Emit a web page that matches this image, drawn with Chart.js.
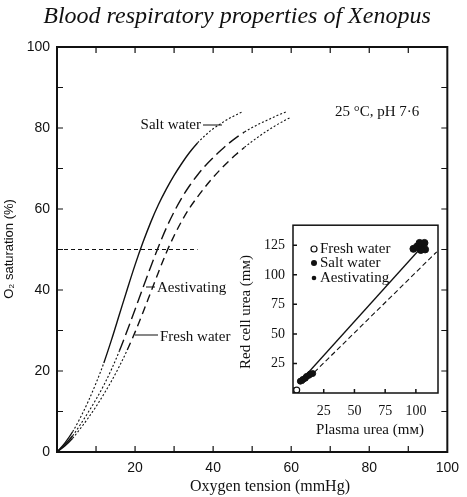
<!DOCTYPE html>
<html>
<head>
<meta charset="utf-8">
<script src="https://cdn.jsdelivr.net/npm/chart.js@4.4.0/dist/chart.umd.min.js"></script>
<style>
  html, body { margin: 0; padding: 0; background: #fff; }
  #wrap { position: relative; width: 467px; height: 497px; }
  #main { position: absolute; left: 0; top: 0; }
  #inset { position: absolute; left: 232px; top: 220px; }
</style>
</head>
<body>
<div id="wrap">
  <canvas id="main" width="467" height="497"></canvas>
  <canvas id="inset" width="215" height="225"></canvas>
</div>
<script>
// dissociation curves, O2 tension (mmHg) vs saturation (%)
const saltTension = [0,2,4,6,8,10,12,14,16,18,20,22,24,26,28,30,32,34,36,38,40,42,44,46,47.5];
const saltSat = [0,2.2,5,8.5,12.5,17,22,27.8,34,40.2,46.2,51.7,56.7,61.1,64.9,68.3,71.3,74,76.3,78.2,79.8,81.1,82.3,83.3,84];

const aestTension = [0,2,4,6,8,10,12,14,16,18,20,22,24,26,28,30,32,34,36,38,40,42,44,46,48,50,52,54,56,58,59];
const aestSat = [0,1.8,4,6.8,9.8,13,16.5,20.5,25,30,35.2,40.5,45.7,50.7,55.3,59.3,62.8,65.8,68.4,70.7,72.7,74.5,76.2,77.7,79,80.1,81.1,82,82.9,83.7,84.1];

const freshTension = [0,2,4,6,8,10,12,14,16,18,20,22,24,26,28,30,32,34,36,38,40,42,44,46,48,50,52,54,56,58,60];
const freshSat = [0,1.5,3.4,5.8,8.4,11.2,14.3,17.6,21.2,25.2,29.6,34.4,39.4,44.4,49.2,53.4,57.1,60.3,63,65.5,67.8,69.9,71.8,73.6,75.2,76.7,78.1,79.4,80.6,81.7,82.7];

const p50Tension = [0, 36];
const p50Sat = [50, 50];

// inset: plasma urea vs red cell urea (mM)
const plasmaFresh = [2, 3];
const cellFresh = [2, 2.5];
const plasmaSalt = [98, 101, 103, 105, 107, 107.5, 104];
const cellSalt = [122, 124, 127, 125.5, 127, 121.5, 121];
const plasmaAest = [6, 8, 10, 11, 13, 14, 16];
const cellAest = [10, 11.5, 12.5, 14, 15, 16, 16.5];
const fitPlasma = [7, 106];
const fitCell = [11, 125];
const dashPlasma = [8, 117];
const dashCell = [8, 119.5];

const toPts = (xs, ys) => xs.map((x, i) => ({ x: x, y: ys[i] }));

const SERIF = '"Liberation Serif", "DejaVu Serif", serif';
const SANS = '"Liberation Sans", Arial, sans-serif';
const INK = '#111';

// picks dash style by the tension range of a segment
function styleBy(parts) {
  return {
    borderDash: ctx => {
      const a = ctx.p0.parsed.x, b = ctx.p1.parsed.x;
      for (const p of parts) if (a >= p[0] && b <= p[1]) return p[2];
      return [2, 2];
    },
    borderWidth: ctx => {
      const a = ctx.p0.parsed.x, b = ctx.p1.parsed.x;
      for (const p of parts) if (a >= p[0] && b <= p[1]) return p[3];
      return 1.1;
    }
  };
}

function curve(data, parts) {
  return {
    data: data,
    borderColor: INK,
    borderWidth: 1.4,
    pointRadius: 0,
    tension: 0.4,
    cubicInterpolationMode: 'monotone',
    segment: styleBy(parts)
  };
}

const mainDecor = {
  id: 'mainDecor',
  afterDraw(chart) {
    const { ctx, chartArea: a, scales: { x, y } } = chart;
    ctx.save();
    ctx.strokeStyle = INK;
    ctx.lineWidth = 2;
    ctx.strokeRect(a.left, a.top, a.right - a.left, a.bottom - a.top);
    ctx.lineWidth = 1.5;
    ctx.beginPath();
    for (let v = 10; v < 100; v += 10) {
      const px = x.getPixelForValue(v);
      ctx.moveTo(px, a.bottom); ctx.lineTo(px, a.bottom - 6);
      ctx.moveTo(px, a.top); ctx.lineTo(px, a.top + 6);
      const py = y.getPixelForValue(v);
      ctx.moveTo(a.left, py); ctx.lineTo(a.left + 6, py);
      ctx.moveTo(a.right, py); ctx.lineTo(a.right - 6, py);
    }
    // leader lines
    ctx.lineWidth = 1.2;
    ctx.moveTo(203, 125); ctx.lineTo(222, 125);
    ctx.moveTo(146, 287); ctx.lineTo(155, 287);
    ctx.moveTo(135, 335); ctx.lineTo(158, 335);
    ctx.stroke();

    ctx.fillStyle = INK;
    ctx.textBaseline = 'middle';
    ctx.textAlign = 'center';
    ctx.font = 'italic 24px ' + SERIF;
    ctx.fillText('Blood respiratory properties of Xenopus', 237, 17);
    ctx.font = '16px ' + SERIF;
    ctx.fillText('Oxygen tension (mmHg)', 270, 487);

    ctx.font = '15px ' + SERIF;
    ctx.textAlign = 'right';
    ctx.fillText('Salt water', 201, 125);
    ctx.textAlign = 'left';
    ctx.fillText('Aestivating', 157, 288);
    ctx.fillText('Fresh water', 160, 337);
    ctx.fillText('25 °C, pH 7·6', 335, 112);

    ctx.translate(9, 249);
    ctx.rotate(-Math.PI / 2);
    ctx.textAlign = 'center';
    ctx.font = '13px ' + SANS;
    ctx.fillText('O₂ saturation (%)', 0, 0);
    ctx.restore();
  }
};

new Chart(document.getElementById('main'), {
  type: 'line',
  data: {
    datasets: [
      curve(toPts(saltTension, saltSat), [[0, 4, [], 1.4], [12, 36, [], 1.4]]),
      curve(toPts(aestTension, aestSat), [[0, 4, [], 1.4], [16, 48, [12, 5], 1.4]]),
      curve(toPts(freshTension, freshSat), [[0, 4, [], 1.4], [18, 48, [8, 5], 1.4]]),
      {
        data: toPts(p50Tension, p50Sat),
        borderColor: INK,
        borderWidth: 1.2,
        borderDash: [4, 3],
        pointRadius: 0
      }
    ]
  },
  options: {
    responsive: false,
    animation: false,
    layout: { padding: { top: 47, right: 10, left: 0, bottom: 0 } },
    plugins: { legend: { display: false }, tooltip: { enabled: false } },
    scales: {
      x: {
        type: 'linear', min: 0, max: 100,
        afterFit: s => { s.height = 45; },
        grid: { display: false, drawTicks: false },
        border: { display: false },
        ticks: {
          stepSize: 10, autoSkip: false, maxRotation: 0, padding: 8,
          color: INK, font: { family: SANS, size: 14 },
          callback: v => (v % 20 === 0 && v !== 0) ? v : ''
        }
      },
      y: {
        type: 'linear', min: 0, max: 100,
        afterFit: s => { s.width = 57; },
        grid: { display: false, drawTicks: false },
        border: { display: false },
        ticks: {
          stepSize: 10, autoSkip: false, padding: 7,
          color: INK, font: { family: SANS, size: 14 },
          callback: v => v % 20 === 0 ? v : ''
        }
      }
    }
  },
  plugins: [mainDecor]
});

// inset chart
const insetDecor = {
  id: 'insetDecor',
  beforeDatasetsDraw(chart) {
    const { ctx, chartArea: a } = chart;
    ctx.save();
    ctx.fillStyle = '#fff';
    ctx.fillRect(a.left, a.top, a.right - a.left, a.bottom - a.top);
    ctx.restore();
  },
  afterDraw(chart) {
    const { ctx, chartArea: a, scales: { x, y } } = chart;
    ctx.save();
    ctx.strokeStyle = INK;
    ctx.lineWidth = 1.5;
    ctx.strokeRect(a.left, a.top, a.right - a.left, a.bottom - a.top);
    ctx.beginPath();
    for (let v = 25; v <= 125; v += 25) {
      if (v <= 100) {
        const px = x.getPixelForValue(v);
        ctx.moveTo(px, a.bottom); ctx.lineTo(px, a.bottom - 4);
      }
      const py = y.getPixelForValue(v);
      ctx.moveTo(a.left, py); ctx.lineTo(a.left + 4, py);
    }
    ctx.stroke();

    // legend
    const rows = [
      ['Fresh water', 'open', 29],
      ['Salt water', 'big', 43],
      ['Aestivating', 'small', 58]
    ];
    ctx.font = '15px ' + SERIF;
    ctx.textBaseline = 'middle';
    ctx.textAlign = 'left';
    ctx.fillStyle = INK;
    for (const [label, kind, ry] of rows) {
      ctx.beginPath();
      ctx.arc(82, ry, kind === 'small' ? 2.3 : 3, 0, Math.PI * 2);
      if (kind === 'open') { ctx.lineWidth = 1.2; ctx.stroke(); }
      else ctx.fill();
      ctx.fillText(label, 88, ry);
    }

    ctx.textAlign = 'center';
    ctx.fillText('Plasma urea (mᴍ)', 138, 210);
    ctx.translate(14, 92);
    ctx.rotate(-Math.PI / 2);
    ctx.fillText('Red cell urea (mᴍ)', 0, 0);
    ctx.restore();
  }
};

new Chart(document.getElementById('inset'), {
  type: 'scatter',
  data: {
    datasets: [
      {
        type: 'line', data: toPts(dashPlasma, dashCell),
        borderColor: INK, borderWidth: 1.1, borderDash: [5, 3], pointRadius: 0
      },
      {
        type: 'line', data: toPts(fitPlasma, fitCell),
        borderColor: INK, borderWidth: 1.3, pointRadius: 0
      },
      {
        data: toPts(plasmaFresh, cellFresh),
        pointRadius: 3, pointBackgroundColor: '#fff', pointBorderColor: INK, pointBorderWidth: 1.2
      },
      {
        data: toPts(plasmaSalt, cellSalt),
        pointRadius: 3.5, pointBackgroundColor: INK, pointBorderColor: INK
      },
      {
        data: toPts(plasmaAest, cellAest),
        pointRadius: 3, pointBackgroundColor: INK, pointBorderColor: INK
      }
    ]
  },
  options: {
    responsive: false,
    animation: false,
    layout: { padding: { top: 5, right: 9, left: 0, bottom: 0 } },
    plugins: { legend: { display: false }, tooltip: { enabled: false } },
    scales: {
      x: {
        type: 'linear', min: 0, max: 118,
        afterFit: s => { s.height = 52; s.paddingLeft = 0; s.paddingRight = 0; },
        grid: { display: false, drawTicks: false },
        border: { display: false },
        ticks: {
          stepSize: 25, includeBounds: false, autoSkip: false, maxRotation: 0, padding: 10,
          color: INK, font: { family: SERIF, size: 14 },
          callback: v => v === 0 ? '' : v
        }
      },
      y: {
        type: 'linear', min: 0, max: 142,
        afterFit: s => { s.width = 61; s.paddingTop = 0; s.paddingBottom = 0; },
        grid: { display: false, drawTicks: false },
        border: { display: false },
        ticks: {
          stepSize: 25, includeBounds: false, autoSkip: false, padding: 8,
          color: INK, font: { family: SERIF, size: 14 },
          callback: v => v === 0 ? '' : v
        }
      }
    }
  },
  plugins: [insetDecor]
});
</script>
</body>
</html>
